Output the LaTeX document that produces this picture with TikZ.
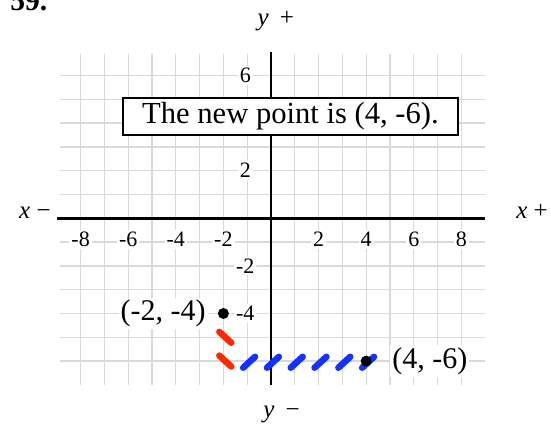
\documentclass[tikz,border=0pt]{standalone}
\usepackage{fontspec}
\setmainfont{Liberation Serif}

\definecolor{stepred}{RGB}{255,40,0}
\definecolor{stepblue}{RGB}{20,50,255}

\tikzset{
    gridline/.style={draw=black!15, line width=0.65pt},
    axisline/.style={line width=1.3pt},
    ticklabel/.style={fill=white, inner sep=1pt, font=\fontsize{11}{13}\selectfont},
    axislabel/.style={inner sep=0pt, font=\fontsize{12.5}{15}\selectfont},
    ptlabel/.style={fill=white, inner sep=1pt, font=\fontsize{15}{18}\selectfont},
    msgbox/.style={draw, fill=white, line width=1pt, inner sep=0pt,
        minimum width=167.6pt, minimum height=18.4pt,
        font=\fontsize{15.3}{18}\selectfont},
    redstep/.style={draw=stepred, line width=3.25pt, line cap=round},
    bluestep/.style={draw=stepblue, line width=3.25pt, line cap=round}
}

\begin{document}
\begin{tikzpicture}[x=11.9pt, y=11.9pt]
    \useasboundingbox (-11.387,-8.895) rectangle (11.765,9.172);

    % Problem number (cut off at the top)
    \node[anchor=base west, inner sep=0pt, font=\bfseries\fontsize{14.8}{17}\selectfont] (num) at (-10.97,8.75) {59.};

    % Grid
    \draw[gridline] (-8.85,-6) grid[xstep=20, ystep=1] (9,6);
    \draw[gridline] (-8,-7) grid[xstep=1, ystep=20] (8,6.9);

    % Axes
    \coordinate (xl) at (-9,0);
    \coordinate (xr) at (9,0);
    \coordinate (yb) at (0,-7);
    \coordinate (yt) at (0,7);
    \draw[axisline] (xl) -- (xr);
    \draw[axisline] (yb) -- (yt);
    \node[axislabel, anchor=base] (xneg) at (-9.92,-0.03) {{\itshape x} −};
    \node[axislabel, anchor=base] (xpos) at (10.97,-0.03) {{\itshape x} +};
    \node[axislabel, anchor=base] (ypos) at (0.2,8.12) {{\itshape y}\hspace{0.45em}+};
    \node[axislabel, anchor=base] (yneg) at (0.44,-8.39) {{\itshape y}\hspace{0.45em}−};

    % Tick labels
    \node[ticklabel] (xm8) at (-8,-0.9) {-8};
    \node[ticklabel] (xm6) at (-6,-0.9) {-6};
    \node[ticklabel] (xm4) at (-4,-0.9) {-4};
    \node[ticklabel] (xm2) at (-2,-0.9) {-2};
    \node[ticklabel] (x2) at (2,-0.9) {2};
    \node[ticklabel] (x4) at (4,-0.9) {4};
    \node[ticklabel] (x6) at (6,-0.9) {6};
    \node[ticklabel] (x8) at (8,-0.9) {8};
    \node[ticklabel] (y6) at (-1.08,6) {6};
    \node[ticklabel] (y2) at (-1.08,2) {2};
    \node[ticklabel] (ym2) at (-1.08,-2) {-2};
    \node[ticklabel] (ym4) at (-1.08,-4) {-4};

    % Answer box
    \node[msgbox] (msg) at (0.82,4.28) {The new point is (4, -6).};

    % Moves: down 2, right 6
    \draw[redstep] (-2.17,-4.77) -- ++(0.5,-0.46);
    \draw[redstep] (-2.17,-5.77) -- ++(0.5,-0.46);
    \draw[bluestep] (-1.17,-6.28) -- ++(0.5,0.46);
    \draw[bluestep] (-0.17,-6.28) -- ++(0.5,0.46);
    \draw[bluestep] (0.83,-6.28) -- ++(0.5,0.46);
    \draw[bluestep] (1.83,-6.28) -- ++(0.5,0.46);
    \draw[bluestep] (2.83,-6.28) -- ++(0.5,0.46);
    \draw[bluestep] (3.83,-6.28) -- ++(0.5,0.46);

    % Old and new point
    \coordinate (P) at (-2,-4);
    \coordinate (Q) at (4,-6);
    \fill (P) circle (2.75pt);
    \fill (Q) circle (2.75pt);
    \node[ptlabel, anchor=east] (Plabel) at (-2.65,-4) {(-2, -4)};
    \node[ptlabel, anchor=west] (Qlabel) at (5.0,-6) {(4, -6)};
\end{tikzpicture}
\end{document}
